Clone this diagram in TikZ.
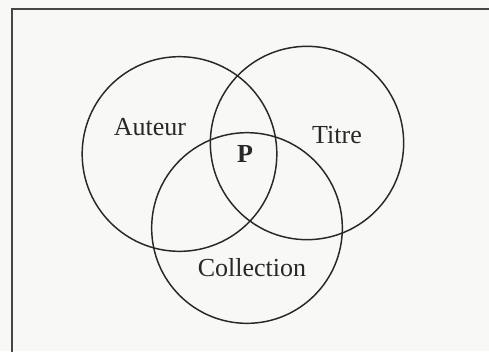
\documentclass[tikz,border=0pt]{standalone}
\usepackage{fontspec}
\setmainfont{Liberation Serif}
\usepackage{xcolor}
\usepackage{tikz}
\definecolor{VennInk}{RGB}{40,40,40}
\definecolor{VennFrame}{RGB}{70,70,70}
\definecolor{VennBg}{RGB}{248,248,246}

\begin{document}
\begin{tikzpicture}[
x=0.75pt, y=-0.75pt,
setcircle/.style={
draw=VennInk,
line width=1.1pt,
circle,
inner sep=0pt
},
label/.style={
text=VennInk,
font=\fontsize{19.5}{22}\selectfont
}
]

\clip (0,0) rectangle (489,351);
\fill[VennBg] (0,0) rectangle (489,351);
\draw[VennFrame, line width=1.1pt] (12,9) rectangle (520,380);

\node[setcircle, minimum size=146pt] (auteur) at (179.5,154) {};
\node[setcircle, minimum size=145pt] (titre) at (307,143) {};
\node[setcircle, minimum size=143pt] (collection) at (247,228) {};

\node[label] (auteurlbl) at (150,127) {Auteur};
\node[label] (titrelbl) at (337,135) {Titre};
\node[label, font=\fontsize{19.5}{22}\selectfont\bfseries] (p) at (245,154) {P};
\node[label] (collectionlbl) at (252,268) {Collection};

\end{tikzpicture}
\end{document}
